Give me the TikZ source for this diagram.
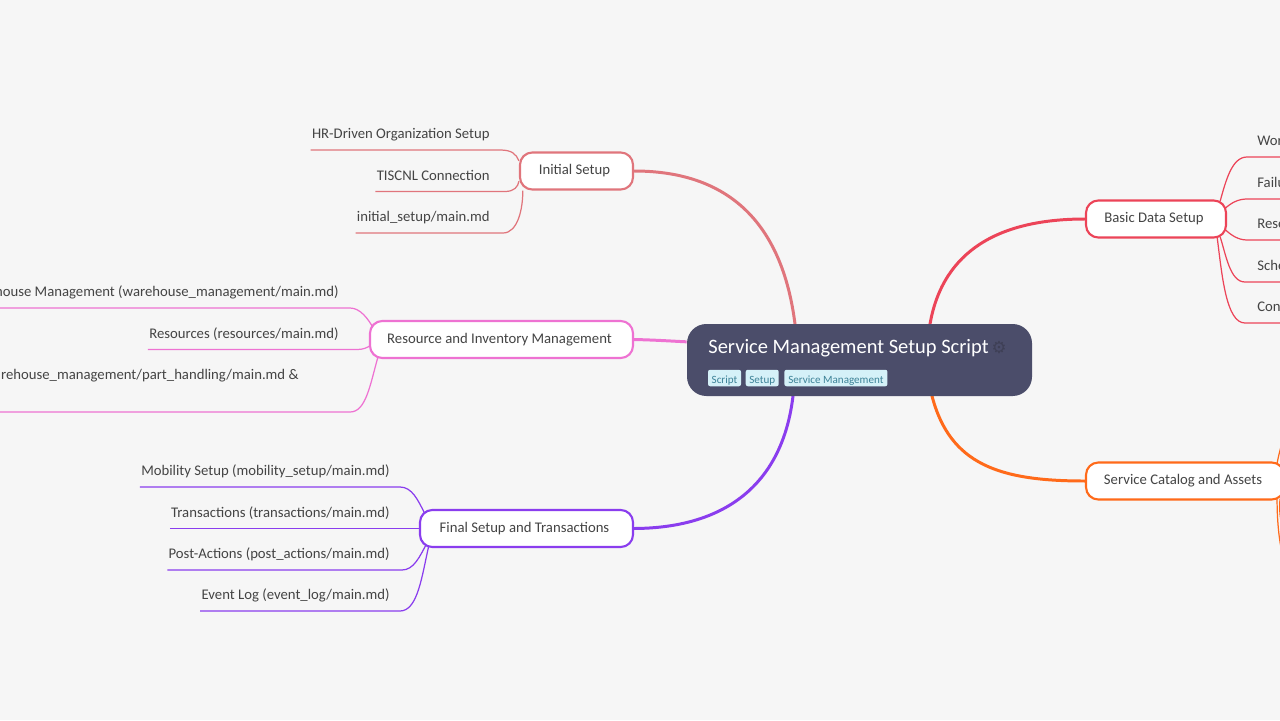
\documentclass[tikz,border=0pt]{standalone}
\usepackage{fontspec}
\setmainfont{Carlito}
\newfontfamily\symbfont{DejaVu Sans}
\usetikzlibrary{positioning}
\definecolor{pagebg}{HTML}{F6F6F6}
\definecolor{rootbg}{HTML}{4B4D6A}
\definecolor{tagbg}{HTML}{D5F1F8}
\definecolor{tagfg}{HTML}{3D8297}
\definecolor{gearfg}{HTML}{3E3F55}
\definecolor{textfg}{HTML}{444444}
\definecolor{initc}{HTML}{E0757C}
\definecolor{resc}{HTML}{EE72D2}
\definecolor{finc}{HTML}{8A3DEE}
\definecolor{datac}{HTML}{EC4458}
\definecolor{catc}{HTML}{FF6A1A}
\pgfdeclarelayer{edges}
\pgfsetlayers{edges,main}
\newcommand{\pxu}{0.02cm}

\begin{document}
\begin{tikzpicture}[x=\pxu,y=-\pxu,
    every node/.style={text=textfg,font=\fontsize{8.38}{10}\selectfont},
    branch/.style={draw,fill=white,line width=1.2pt,rounded corners=7pt,minimum height=37*\pxu,inner sep=0pt,execute at end node=\hspace{0.08cm}},
    leaf/.style={anchor=south east,inner ysep=0pt,inner xsep=1*\pxu,text height=11*\pxu,text depth=10.7*\pxu},
    rleaf/.style={leaf,anchor=south west},
    tag/.style={fill=tagbg,text=tagfg,rounded corners=1.2pt,inner sep=0pt,minimum height=16.5*\pxu,text height=10*\pxu,text depth=0pt,font=\fontsize{6.3}{8}\selectfont},
    main/.style={line width=1.7pt},
    sub/.style={line width=0.7pt}]
    \useasboundingbox (0,0) rectangle (1280,720);
    \clip (0,0) rectangle (1280,720);
    \begin{pgfonlayer}{edges}
        \fill[pagebg] (0,0) rectangle (1280,720);
    \end{pgfonlayer}

    \node[fill=rootbg,rounded corners=11pt,minimum width=345*\pxu,minimum height=72*\pxu,inner sep=0pt] (r0) at (859.5,360) {};
    \node[anchor=base west,inner sep=0pt,text=white,font=\fontsize{11.65}{14}\selectfont] (r1) at (708,353.3) {Service Management Setup Script};
    \node[anchor=center,inner sep=0pt,text=gearfg,font=\symbfont\fontsize{9.5}{11}\selectfont] (r2) at (999,348) {⚙};
    \node[tag,minimum width=33*\pxu] (t1) at (724.5,378) {Script};
    \node[tag,minimum width=33*\pxu] (t2) [right=4*\pxu of t1] {Setup};
    \node[tag,minimum width=103*\pxu] (t3) [right=5*\pxu of t2] {Service Management};

    \node[branch,draw=initc,minimum width=113*\pxu] (i0) at (576.5,171) {Initial Setup};
    \node[leaf] (i1) at (491,150) {HR-Driven Organization Setup};
    \node[leaf] (i2) at (491,191.5) {TISCNL Connection};
    \node[leaf] (i3) at (491,233) {initial\_setup/main.md};

    \node[branch,draw=resc,minimum width=263*\pxu] (s0) at (501.5,339.5) {Resource and Inventory Management};
    \node[leaf] (s1) at (340,308) {house Management (warehouse\_management/main.md)};
    \node[leaf] (s2) at (340,349.5) {Resources (resources/main.md)};
    \node[leaf] (s3) at (300,391) {rehouse\_management/part\_handling/main.md \&};
    \coordinate (s4) at (-2,412);
    \coordinate (s5) at (-2,308);

    \node[branch,draw=finc,minimum width=213*\pxu] (f0) at (526.5,528.5) {Final Setup and Transactions};
    \node[leaf] (f1) at (391,487) {Mobility Setup (mobility\_setup/main.md)};
    \node[leaf] (f2) at (391,528.5) {Transactions (transactions/main.md)};
    \node[leaf] (f3) at (391,570) {Post-Actions (post\_actions/main.md)};
    \node[leaf] (f4) at (391,611) {Event Log (event\_log/main.md)};

    \node[branch,draw=datac,minimum width=140*\pxu] (d0) at (1156,219) {Basic Data Setup};
    \node[rleaf] (d1) at (1256,157) {Wor};
    \node[rleaf] (d2) at (1256,199) {Failu};
    \node[rleaf] (d3) at (1256,240) {Rese};
    \node[rleaf] (d4) at (1256,282) {Sche};
    \node[rleaf] (d5) at (1256,323) {Con};
    \coordinate (d6) at (1285,157);
    \coordinate (d7) at (1285,199);
    \coordinate (d8) at (1285,240);
    \coordinate (d9) at (1285,282);
    \coordinate (d10) at (1285,323);

    \node[branch,draw=catc,minimum width=198*\pxu] (c0) at (1185,481) {Service Catalog and Assets};
    \coordinate (c1) at (1283,438);
    \coordinate (c2) at (1282,552);
    \coordinate (c3) at (1283,530);

    \begin{pgfonlayer}{edges}
        % branches from the root
        \draw[main,initc] (i0.east) .. controls (735,171) and (783,230) .. (795,324) -- (r0);
        \draw[main,resc] (s0.east) .. controls (655,340) and (670,341) .. (r0.174);
        \draw[main,finc] (f0.east) .. controls (730,528) and (783,480) .. (793,396) -- (r0);
        \draw[main,datac] (d0.west) .. controls (1000,219) and (943,250) .. (930,324) -- (r0);
        \draw[main,catc] (c0.west) .. controls (1000,481) and (950,465) .. (932,396) -- (r0);

        % leaves on the left
        \draw[sub,initc] (i1.south west) -- (500,150) .. controls (512,150) and (516,154) .. (i0.170);
        \draw[sub,initc] (i2.south west) -- (505,191.5) .. controls (514,191.5) and (518,187) .. (i0.190);
        \draw[sub,initc] (i3.south west) -- (503,233) .. controls (518,233) and (523,208) .. (i0.200);

        \draw[sub,resc] (s5) -- (350,308) .. controls (360,308) and (368,318) .. ([xshift=6*\pxu,yshift=-11*\pxu]s0.north west);
        \draw[sub,resc] (s2.south west) -- (357,349.5) .. controls (363,349.5) and (367,348) .. ([xshift=3*\pxu,yshift=-5*\pxu]s0.west);
        \draw[sub,resc] (s4) -- (350,412) .. controls (366,412) and (370,385) .. ([xshift=9*\pxu,yshift=2*\pxu]s0.south west);

        \draw[sub,finc] (f1.south west) -- (400,487) .. controls (412,487) and (418,500) .. ([xshift=6*\pxu,yshift=-5*\pxu]f0.north west);
        \draw[sub,finc] (f2.south west) -- (f0.west);
        \draw[sub,finc] (f3.south west) -- (402,570) .. controls (414,570) and (420,556) .. ([xshift=8*\pxu,yshift=5*\pxu]f0.south west);
        \draw[sub,finc] (f4.south west) -- (400,611) .. controls (418,611) and (422,575) .. ([xshift=10*\pxu,yshift=3*\pxu]f0.south west);

        % leaves on the right
        \draw[sub,datac] (d6) -- (1247,157) .. controls (1232,157) and (1226,180) .. ([xshift=-7*\pxu,yshift=-2*\pxu]d0.north east);
        \draw[sub,datac] (d7) -- (1247,199) .. controls (1238,199) and (1231,203) .. ([xshift=-2*\pxu,yshift=-9*\pxu]d0.north east);
        \draw[sub,datac] (d8) -- (1247,240) .. controls (1238,240) and (1231,235) .. ([xshift=-2*\pxu,yshift=9*\pxu]d0.south east);
        \draw[sub,datac] (d9) -- (1245,282) .. controls (1230,282) and (1226,255) .. ([xshift=-7*\pxu,yshift=2*\pxu]d0.south east);
        \draw[sub,datac] (d10) -- (1245,323) .. controls (1226,323) and (1222,275) .. ([xshift=-10*\pxu,yshift=2*\pxu]d0.south east);
        \draw[sub,catc] (c1) .. controls (1281,447) and (1279,453) .. ([xshift=-8*\pxu,yshift=-2*\pxu]c0.north east);
        \draw[sub,catc] (c2) .. controls (1279,540) and (1277,520) .. ([xshift=-8*\pxu,yshift=2*\pxu]c0.south east);
        \draw[sub,catc] (c3) .. controls (1280,518) and (1279,510) .. ([xshift=-5*\pxu,yshift=2*\pxu]c0.south east);
    \end{pgfonlayer}
\end{tikzpicture}
\end{document}
